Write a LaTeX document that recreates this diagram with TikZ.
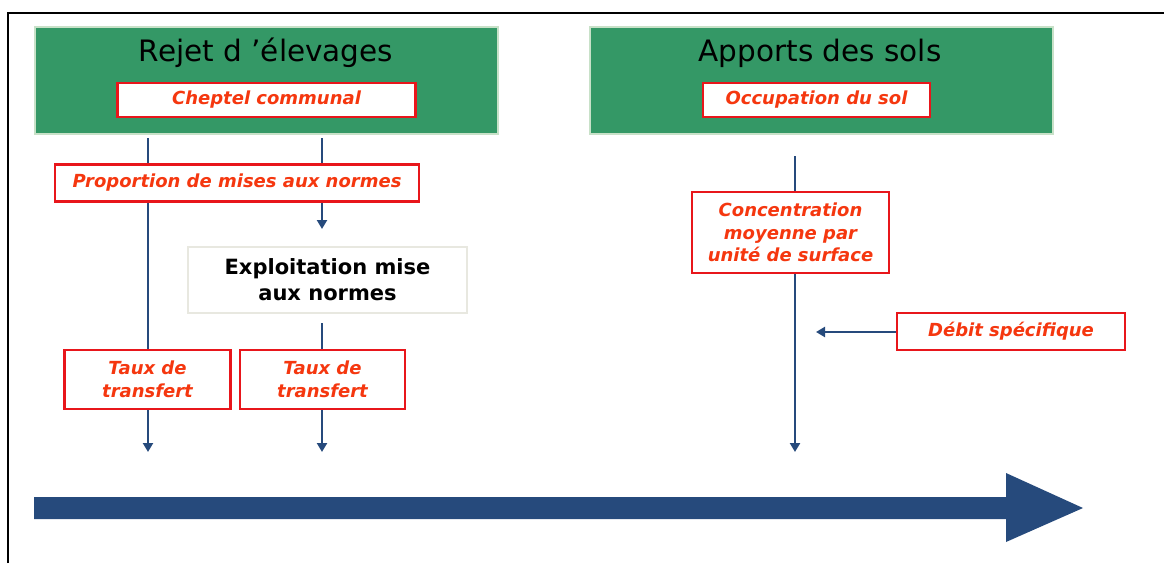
\documentclass[tikz,border=0pt]{standalone}
\usepackage{fontspec}
\setmainfont{DejaVu Sans}
\usetikzlibrary{arrows.meta}
\definecolor{boxgreen}{RGB}{52,152,102}
\definecolor{greenedge}{RGB}{200,225,200}
\definecolor{redline}{RGB}{232,22,27}
\definecolor{redtext}{RGB}{245,55,15}
\definecolor{navy}{RGB}{38,74,124}
\definecolor{grayedge}{RGB}{232,232,224}
\tikzset{
  greenbox/.style={draw=greenedge, line width=2pt, fill=boxgreen, minimum width=463pt, minimum height=107pt, inner sep=0pt},
  title/.style={font=\fontsize{29.5}{34}\selectfont, text=black, inner sep=0pt},
  redbox/.style={draw=redline, line width=2.4pt, fill=white, inner sep=0pt, align=center, text=redtext,
     font=\fontsize{18}{22.5}\selectfont\bfseries\itshape},
  graybox/.style={draw=grayedge, line width=2pt, fill=white, inner sep=0pt, align=center,
     font=\fontsize{21}{26}\selectfont\bfseries},
  conn/.style={draw=navy, line width=2.5pt},
  carrow/.style={conn, -{Triangle[width=10pt,length=9pt]}}
}
\begin{document}
\begin{tikzpicture}[x=1pt,y=-1pt]
\useasboundingbox (0,0) rectangle (1164,563);
% frame
\draw[line width=2pt] (8,563) -- (8,13) -- (1164,13);
% green header boxes
\node[greenbox] (g1) at (266.5,80.5) {};
\node[greenbox] (g2) at (821,80.5) {};
\node[title] (t1) at (266,53) {Rejet d 'élevages};
\node[title] (t2) at (820,53) {Apports des sols};
\node[redbox, minimum width=298pt, minimum height=34pt] (chep) at (266.5,100) {Cheptel communal};
\node[redbox, minimum width=227pt, minimum height=34pt] (occ) at (816.5,100) {Occupation du sol};
% left branch
\node[redbox, minimum width=364pt, minimum height=37pt] (prop) at (237,183) {Proportion de mises aux normes};
\node[graybox, minimum width=279pt, minimum height=66pt] (expl) at (327.5,280) {Exploitation mise\\aux normes};
\node[redbox, minimum width=166pt, minimum height=59pt] (taux1) at (147.5,379.5) {Taux de\\transfert};
\node[redbox, minimum width=165pt, minimum height=59pt] (taux2) at (322.5,379.5) {Taux de\\transfert};
% right branch
\node[redbox, minimum width=197pt, minimum height=81pt] (conc) at (790.5,232.5) {Concentration\\moyenne par\\unité de surface};
\node[redbox, minimum width=228pt, minimum height=37pt] (debit) at (1011,331.5) {Débit spécifique};
% coordinates
\coordinate (a1) at (148,138);
\coordinate (a2) at (322,138);
\coordinate (e1) at (148,452);
\coordinate (e2) at (322,452);
\coordinate (m2) at (322,229);
\coordinate (x2) at (322,323);
\coordinate (a3) at (795,156);
\coordinate (e3) at (795,452);
\coordinate (d1) at (816,332);
% connectors
\draw[conn] (a1) -- (a1 |- prop.north);
\draw[conn] (a1 |- prop.south) -- (a1 |- taux1.north);
\draw[carrow] (a1 |- taux1.south) -- (e1);
\draw[conn] (a2) -- (a2 |- prop.north);
\draw[carrow] (a2 |- prop.south) -- (m2);
\draw[conn] (x2) -- (x2 |- taux2.north);
\draw[carrow] (a2 |- taux2.south) -- (e2);
\draw[conn] (a3) -- (a3 |- conc.north);
\draw[carrow] (a3 |- conc.south) -- (e3);
\draw[carrow] (debit.west |- d1) -- (d1);
% big arrow
\fill[navy] (34,497) -- (1006,497) -- (1006,473) -- (1083,508) -- (1006,542) -- (1006,519) -- (34,519) -- cycle;
\end{tikzpicture}
\end{document}
